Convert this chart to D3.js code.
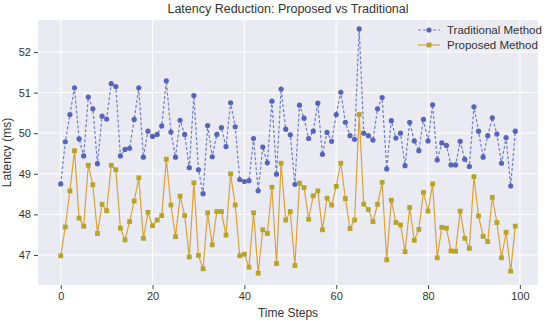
<!DOCTYPE html>
<meta charset="utf-8">
<style>
body{ margin: 0; background: white; font-family: "Liberation Sans", Arial, sans-serif; }
svg text{ fill: #333; }
</style>
<div id="chart"></div>
<script src="https://cdn.jsdelivr.net/npm/d3@7"></script>
<script>

var traditional = [
  48.75, 49.79, 50.46, 51.12, 49.86, 49.44, 50.89, 50.60, 49.25, 50.42,
  50.35, 51.22, 51.15, 49.44, 49.60, 49.63, 50.34, 51.12, 49.41, 50.05,
  49.92, 49.97, 50.18, 51.29, 50.03, 49.41, 50.32, 49.97, 49.15, 50.93,
  49.10, 48.51, 50.19, 49.42, 49.97, 50.14, 49.67, 50.75, 50.16, 48.86,
  48.81, 48.83, 49.87, 48.58, 49.66, 49.27, 50.79, 48.99, 51.09, 50.10,
  49.96, 48.74, 50.69, 50.37, 49.87, 50.05, 50.74, 49.48, 50.02, 49.80,
  50.46, 51.01, 50.27, 49.94, 49.85, 52.57, 50.00, 49.94, 49.83, 50.60,
  50.88, 49.12, 50.31, 49.88, 50.00, 49.20, 50.27, 49.81, 49.57, 50.34,
  49.81, 50.70, 49.34, 49.76, 49.70, 49.22, 49.22, 49.80, 49.36, 49.18,
  50.65, 50.05, 49.41, 49.94, 50.38, 49.98, 49.26, 49.89, 48.70, 50.05
]

var proposed = [
  46.98, 47.69, 48.58, 49.57, 47.91, 47.71, 49.21, 48.73, 47.53, 48.25,
  48.09, 49.21, 49.10, 47.66, 47.37, 47.82, 48.33, 48.90, 47.41, 48.05,
  47.72, 47.86, 47.97, 49.36, 48.23, 47.45, 48.45, 47.97, 46.95, 48.78,
  46.99, 46.66, 48.04, 47.25, 48.07, 48.07, 47.49, 49.00, 48.23, 46.98,
  47.02, 46.70, 48.04, 46.55, 47.62, 47.53, 48.67, 46.79, 49.26, 47.86,
  48.07, 46.74, 48.77, 48.66, 47.88, 48.46, 48.58, 47.62, 48.40, 48.23,
  48.69, 49.26, 48.39, 47.65, 47.86, 50.46, 48.25, 48.12, 47.82, 48.25,
  48.79, 46.88, 48.35, 47.80, 47.74, 47.08, 48.17, 47.36, 47.63, 48.54,
  48.08, 48.75, 46.93, 47.68, 47.66, 47.10, 47.09, 48.08, 47.41, 47.16,
  48.93, 47.96, 47.46, 47.33, 48.42, 47.80, 46.93, 47.56, 46.60, 47.71
]

var xTicks = [0, 20, 40, 60, 80, 100]
var yTicks = [47, 48, 49, 50, 51, 52]
var seriesNames = ['Traditional Method', 'Proposed Method']

var width = 550, height = 323
var margin = {top: 20, right: 12, bottom: 38, left: 38}
var w = width - margin.left - margin.right
var h = height - margin.top - margin.bottom

var blueLine = '#6d7dcb', blueDot = '#5565b9'
var orangeLine = '#d9a23c', orangeDot = '#b8a42c'

var svg = d3.select('#chart').append('svg')
    .attr('width', width)
    .attr('height', height)

var g = svg.append('g')
    .attr('transform', 'translate(' + margin.left + ',' + margin.top + ')')

var x = d3.scaleLinear()
    .domain([-4.95, 103.95])
    .range([0, w])

var y = d3.scaleLinear()
    .domain([46.26, 52.79])
    .range([h, 0])

// background + grid
g.append('rect')
    .attr('width', w).attr('height', h)
    .attr('fill', '#eaeaf2')

g.selectAll('.vgrid').data(xTicks).enter().append('line')
    .attr('x1', x).attr('x2', x)
    .attr('y1', 0).attr('y2', h)
    .attr('stroke', 'white').attr('stroke-width', 1)

g.selectAll('.hgrid').data(yTicks).enter().append('line')
    .attr('x1', 0).attr('x2', w)
    .attr('y1', y).attr('y2', y)
    .attr('stroke', 'white').attr('stroke-width', 1)

// axes
var xAxis = g.append('g')
    .attr('transform', 'translate(0,' + h + ')')
    .call(d3.axisBottom(x).tickValues(xTicks).tickSize(4).tickPadding(3))
var yAxis = g.append('g')
    .call(d3.axisLeft(y).tickValues(yTicks).tickFormat(d3.format('d')).tickSize(4).tickPadding(3))

;[xAxis, yAxis].forEach(function(a){
  a.select('.domain').remove()
  a.selectAll('line').attr('stroke', '#444')
  a.selectAll('text').style('font-size', '11px').attr('fill', '#333')
})

// lines
var line = function(data){
  return d3.line()
      .x(function(d, i){ return x(i) })
      .y(function(d){ return y(d) })(data)
}

g.append('path')
    .attr('d', line(traditional))
    .attr('fill', 'none')
    .attr('stroke', blueLine)
    .attr('stroke-width', 1.2)
    .attr('stroke-dasharray', '3,2')

g.selectAll('.tdot').data(traditional).enter().append('circle')
    .attr('cx', function(d, i){ return x(i) })
    .attr('cy', y)
    .attr('r', 2.6)
    .attr('fill', blueDot)

g.append('path')
    .attr('d', line(proposed))
    .attr('fill', 'none')
    .attr('stroke', orangeLine)
    .attr('stroke-width', 1.2)

g.selectAll('.pdot').data(proposed).enter().append('rect')
    .attr('x', function(d, i){ return x(i) - 2.4 })
    .attr('y', function(d){ return y(d) - 2.4 })
    .attr('width', 4.8).attr('height', 4.8)
    .attr('fill', orangeDot)

// legend
var legend = g.append('g')
    .attr('transform', 'translate(' + (w - 120) + ',10)')

var lg = legend.selectAll('g').data(seriesNames).enter().append('g')
    .attr('transform', function(d, i){ return 'translate(0,' + (i * 15) + ')' })

lg.append('line')
    .attr('x1', 0).attr('x2', 22)
    .attr('stroke', function(d, i){ return i ? orangeLine : blueLine })
    .attr('stroke-width', 1.2)
    .attr('stroke-dasharray', function(d, i){ return i ? null : '3,2' })

lg.append('circle')
    .filter(function(d, i){ return i == 0 })
    .attr('cx', 11).attr('r', 2.6).attr('fill', blueDot)

lg.append('rect')
    .filter(function(d, i){ return i == 1 })
    .attr('x', 8.6).attr('y', -2.4).attr('width', 4.8).attr('height', 4.8)
    .attr('fill', orangeDot)

lg.append('text')
    .attr('x', 29).attr('dy', '0.35em')
    .style('font-size', '11.5px')
    .text(function(d){ return d })

// titles
svg.append('text')
    .attr('x', margin.left + w / 2).attr('y', 13)
    .attr('text-anchor', 'middle')
    .style('font-size', '12.5px')
    .text('Latency Reduction: Proposed vs Traditional')

svg.append('text')
    .attr('x', margin.left + w / 2).attr('y', height - 6)
    .attr('text-anchor', 'middle')
    .style('font-size', '12px')
    .text('Time Steps')

svg.append('text')
    .attr('transform', 'translate(11,' + (margin.top + h / 2) + ') rotate(-90)')
    .attr('text-anchor', 'middle')
    .style('font-size', '12px')
    .text('Latency (ms)')

</script>
